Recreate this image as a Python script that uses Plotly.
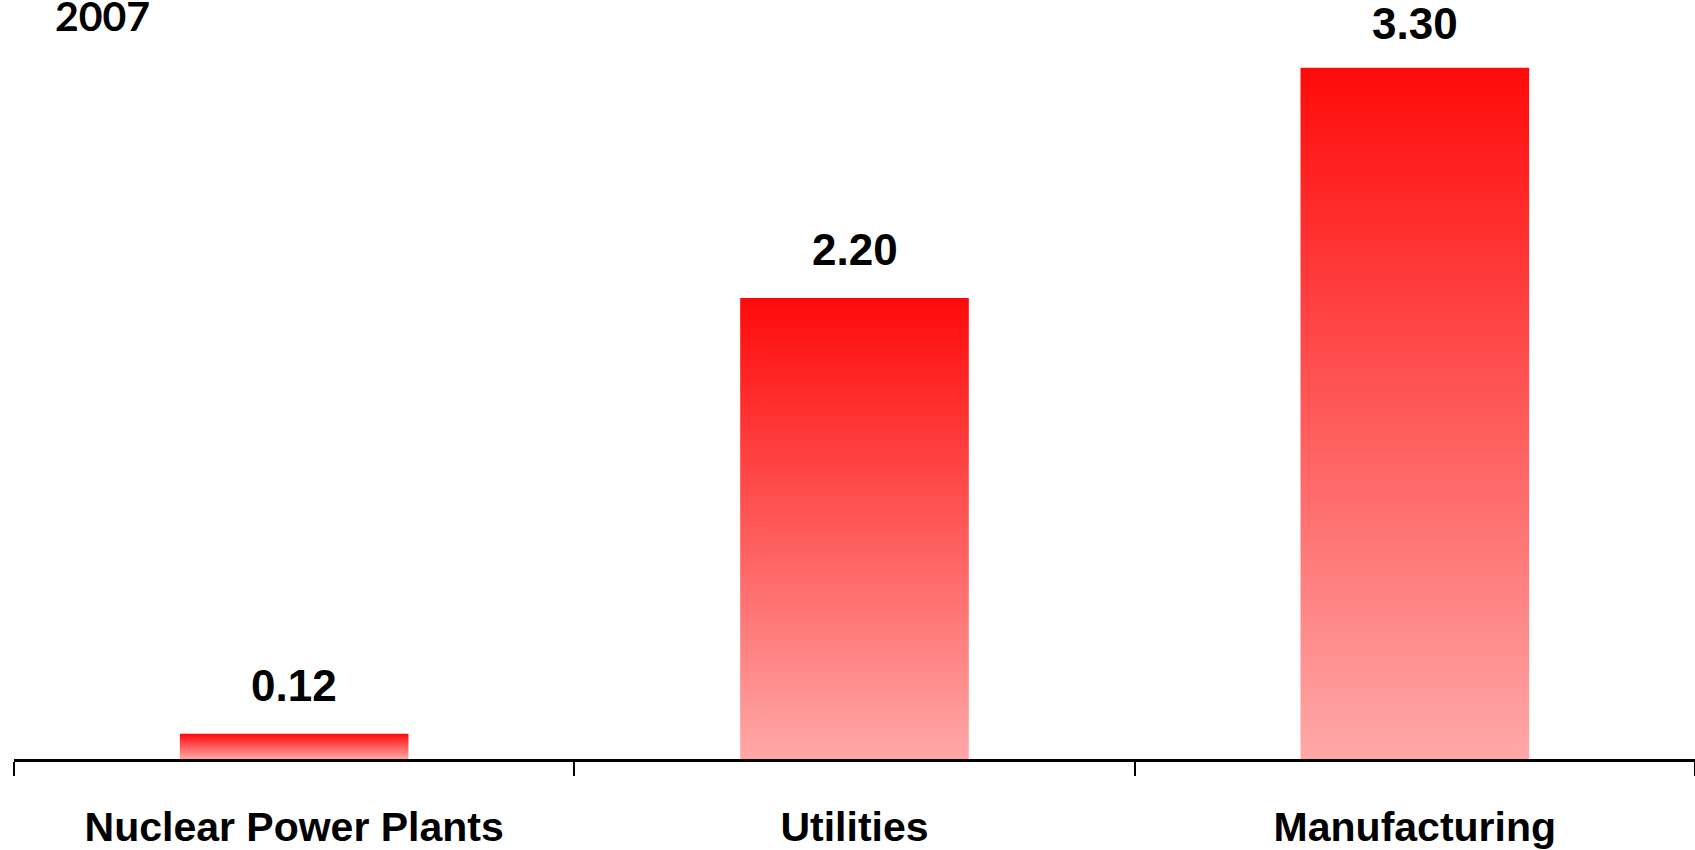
import plotly.graph_objects as go

# Data
categories = ["Nuclear Power Plants", "Utilities", "Manufacturing"]
values = [0.12, 2.20, 3.30]
value_labels = ["0.12", "2.20", "3.30"]
year_label = "2007"

BAR_HALF = 0.204          # half bar width in category units
RED_TOP = "#FF0A0A"
PINK_BOTTOM = "#FFA8A8"

PLOT_H = 759              # plot-area height in px
Y_MAX = PLOT_H / 209.5    # y-axis upper limit
LABEL_GAP = 22            # px between bar top and its value label
LABEL_BOX = 50            # approx. height of a value label box in px

fig = go.Figure()

# Each bar is a filled rectangle with a vertical red-to-pink gradient
for i, (cat, v) in enumerate(zip(categories, values)):
    fig.add_trace(go.Scatter(
        x=[i - BAR_HALF, i + BAR_HALF, i + BAR_HALF, i - BAR_HALF, i - BAR_HALF],
        y=[0, 0, v, v, 0],
        mode="lines",
        line=dict(width=0, color=RED_TOP),
        fill="toself",
        fillcolor=RED_TOP,
        fillgradient=dict(type="vertical",
                          colorscale=[[0, PINK_BOTTOM], [1, RED_TOP]]),
        name=cat,
        hoverinfo="skip",
        showlegend=False,
    ))

# Value labels above bars, kept inside the top edge of the figure
for i, (v, t) in enumerate(zip(values, value_labels)):
    room = PLOT_H * (1 - v / Y_MAX) - LABEL_BOX
    fig.add_annotation(
        x=i, y=v, text=f"<b>{t}</b>", showarrow=False,
        xanchor="center", yanchor="bottom", yshift=min(LABEL_GAP, room),
        font=dict(family="Liberation Sans, Arial, sans-serif", size=44, color="#000000"),
    )

# Year label at top left
fig.add_annotation(
    x=0.0526, y=1 - 16 / PLOT_H, xref="paper", yref="paper",
    text=f"<b>{year_label}</b>", showarrow=False,
    xanchor="center", yanchor="middle",
    font=dict(family="Lato, Calibri, sans-serif", size=41, color="#000000"),
)

fig.update_layout(
    width=1695, height=850,
    margin=dict(l=14, r=0, t=0, b=850 - PLOT_H),
    paper_bgcolor="white", plot_bgcolor="white",
    showlegend=False,
    xaxis=dict(
        range=[-0.5, 2.5],
        tickmode="array",
        tickvals=list(range(len(categories))),
        ticktext=[f"<b>{c}</b>" for c in categories],
        ticks="",
        ticklabelstandoff=30,
        tickfont=dict(family="Liberation Sans, Arial, sans-serif",
                      size=41, color="#000000"),
        showgrid=False, zeroline=False,
        showline=True, linecolor="#000000", linewidth=3,
        minor=dict(tickmode="linear", tick0=-0.5, dtick=1, ticks="outside",
                   ticklen=14, tickwidth=2, tickcolor="#000000", showgrid=False),
        automargin=False, fixedrange=True,
    ),
    yaxis=dict(
        range=[0, Y_MAX],
        visible=False, showgrid=False, zeroline=False,
        automargin=False, fixedrange=True,
    ),
)

fig.write_html("out.html")
